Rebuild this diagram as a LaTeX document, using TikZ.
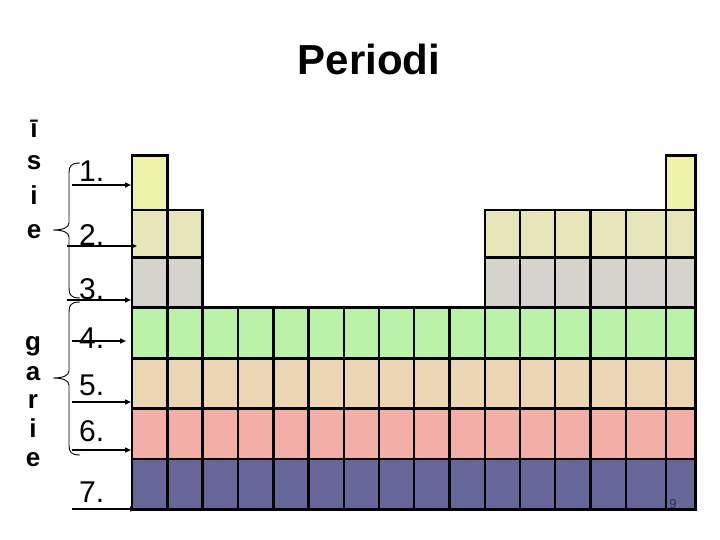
\documentclass[tikz,border=0pt]{standalone}
\usepackage{fontspec}
\setmainfont{Liberation Sans}
\usetikzlibrary{arrows.meta}
\definecolor{rowA}{RGB}{236,242,168}
\definecolor{rowB}{RGB}{230,230,184}
\definecolor{rowC}{RGB}{212,212,204}
\definecolor{rowD}{RGB}{187,242,170}
\definecolor{rowE}{RGB}{234,214,179}
\definecolor{rowF}{RGB}{243,174,168}
\definecolor{rowG}{RGB}{102,102,153}
\definecolor{pgcol}{RGB}{50,50,80}
\begin{document}
\begin{tikzpicture}[x=1pt,y=-1pt,
 cell/.style={draw=black,line width=2.5pt},
 num/.style={anchor=base west,inner sep=0pt,font=\fontsize{30}{36}\selectfont},
 side/.style={anchor=base,inner sep=0pt,font=\fontsize{26}{30}\selectfont\bfseries},
 arr/.style={-{Triangle[length=6pt,width=5pt]},line width=1.4pt},
 bracestyle/.style={line width=0.9pt}]
\useasboundingbox (0,0) rectangle (720,540);
\def\Xe{{132,167.3,202.6,238,273.3,308.6,343.8,379,414.2,449.5,485,520,555,590.7,626,666,695.5}}
\def\Ye{{155.7,210,257.7,307.7,358.5,408.7,459,509.3}}
\foreach \r/\cl/\c in {
  0/{0,15}/rowA,
  1/{0,1,10,11,12,13,14,15}/rowB,
  2/{0,1,10,11,12,13,14,15}/rowC,
  3/{0,1,...,15}/rowD,
  4/{0,1,...,15}/rowE,
  5/{0,1,...,15}/rowF,
  6/{0,1,...,15}/rowG}{
  \foreach \k in \cl {
    \pgfmathsetmacro\xa{\Xe[\k]}
    \pgfmathsetmacro\xb{\Xe[\k+1]}
    \pgfmathsetmacro\ya{\Ye[\r]}
    \pgfmathsetmacro\yb{\Ye[\r+1]}
    \filldraw[cell,fill=\c] (\xa,\ya) rectangle (\xb,\yb);
  }
}
% title
\node[anchor=base,inner sep=0pt,font=\fontsize{42}{48}\selectfont\bfseries] (title) at (369,75) {Periodi};
% side words
\node[side] (l1) at (34,138) {ī};
\node[side] (l2) at (34,170) {s};
\node[side] (l3) at (34,205) {i};
\node[side] (l4) at (34,238) {e};
\node[side] (m1) at (33,350) {g};
\node[side] (m2) at (33,380) {a};
\node[side] (m3) at (33,408) {r};
\node[side] (m4) at (33,437) {i};
\node[side] (m5) at (33,466) {e};
% period numbers
\node[num] (n1) at (79,182) {1.};
\node[num] (n2) at (79,245) {2.};
\node[num] (n3) at (79,299) {3.};
\node[num] (n4) at (79,348) {4.};
\node[num] (n5) at (79,395) {5.};
\node[num] (n6) at (79,441) {6.};
\node[num] (n7) at (79,502) {7.};
% arrows
\coordinate (s1) at (72,185); \coordinate (e1) at (131,185);
\coordinate (s2) at (67,246); \coordinate (e2) at (137,246);
\coordinate (s3) at (67,300); \coordinate (e3) at (131,300);
\coordinate (s4) at (72,341); \coordinate (e4) at (126,341);
\coordinate (s5) at (72,402); \coordinate (e5) at (131,402);
\coordinate (s6) at (72,450); \coordinate (e6) at (131,450);
\coordinate (s7) at (72,509); \coordinate (e7) at (136,509);
\foreach \i in {1,...,7} \draw[arr] (s\i) -- (e\i);
% braces
\draw[bracestyle] (80,163) .. controls (71,163) and (69,166) .. (69,173) -- (69,223)
  .. controls (69,228) and (62,230) .. (53,230)
  .. controls (62,230) and (69,232) .. (69,237) -- (69,288)
  .. controls (69,295) and (71,298) .. (80,298);
\draw[bracestyle] (80,302) .. controls (71,302) and (69,305) .. (69,312) -- (69,371)
  .. controls (69,376) and (62,378) .. (53,378)
  .. controls (62,378) and (69,380) .. (69,385) -- (69,445)
  .. controls (69,452) and (71,455) .. (80,455);
% page number
\node[anchor=base,inner sep=0pt,text=pgcol,font=\fontsize{13}{15}\selectfont] (pg) at (673,508) {9};
\end{tikzpicture}
\end{document}
